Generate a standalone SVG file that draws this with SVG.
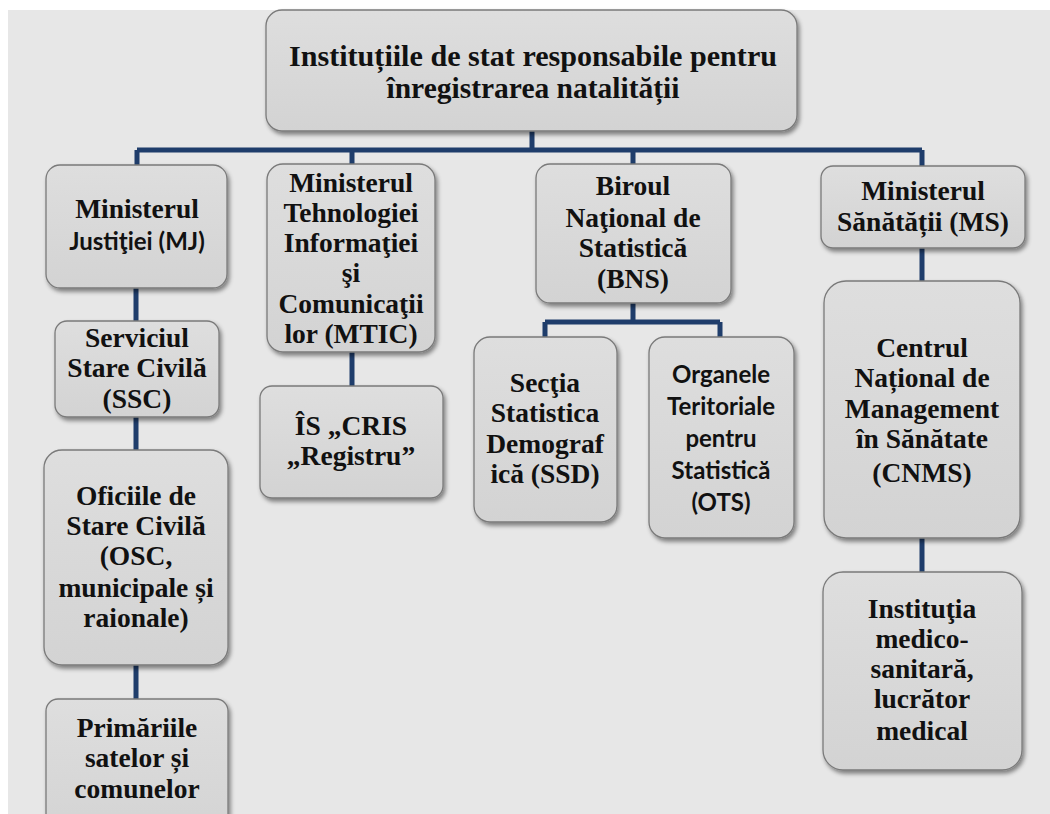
<svg xmlns="http://www.w3.org/2000/svg" width="1050" height="814" viewBox="0 0 1050 814">
<defs>
<linearGradient id="g" x1="0" y1="0" x2="0" y2="1">
<stop offset="0" stop-color="#dedede"/>
<stop offset="1" stop-color="#d3d3d3"/>
</linearGradient>
<filter id="sh" x="-10%" y="-10%" width="125%" height="130%">
<feDropShadow dx="2" dy="3" stdDeviation="2" flood-color="#000" flood-opacity="0.45"/>
</filter>
<style>
.box{fill:url(#g);stroke:#7a7a7a;stroke-width:1.3;filter:url(#sh)}
.t{font-family:"Liberation Serif","Times New Roman",serif;font-weight:bold;font-size:27.5px;fill:#111;text-anchor:middle}
.s{font-family:Lato,"Open Sans","Liberation Sans",sans-serif;font-weight:bold;font-size:24px;fill:#111;text-anchor:middle}
.title{font-family:"Liberation Serif","Times New Roman",serif;font-weight:bold;font-size:30px;fill:#111;text-anchor:middle}
.c{fill:none;stroke:#1f3d6b;stroke-width:5}
</style>
</defs>
<rect x="0" y="0" width="1050" height="814" fill="#ffffff"/>
<rect x="8" y="10" width="1042" height="804" fill="#e7e7e7"/>

<g id="connectors">
<path class="c" d="M532 131 V150 M137 150 H922 M137 150 V165 M352 150 V164 M633 150 V164 M922 150 V166"/>
<path class="c" d="M136 288 V321 M136 417 V450 M136 665 V699"/>
<path class="c" d="M352 352 V386"/>
<path class="c" d="M633 303 V322 M545 322 H720 M545 322 V337 M720 322 V337"/>
<path class="c" d="M922 248 V281 M922 538 V572"/>
</g>

<g id="n-top">
<rect class="box" x="266" y="10" width="531" height="121" rx="16"/>
<text class="title" x="533" y="66" textLength="488" lengthAdjust="spacingAndGlyphs">Instituțiile de stat responsabile pentru</text>
<text class="title" x="533" y="98" textLength="293" lengthAdjust="spacingAndGlyphs">înregistrarea natalității</text>
</g>

<g id="n-mj">
<rect class="box" x="46" y="165" width="181" height="123" rx="14"/>
<text class="t" x="137" y="218">Ministerul</text>
<text class="s" x="137" y="250">Justiţiei (MJ)</text>
</g>

<g id="n-ssc">
<rect class="box" x="55" y="321" width="164" height="96" rx="12"/>
<text class="t" x="137" y="347">Serviciul</text>
<text class="t" x="137" y="377">Stare Civilă</text>
<text class="t" x="137" y="408">(SSC)</text>
</g>

<g id="n-osc">
<rect class="box" x="44" y="450" width="184" height="215" rx="18"/>
<text class="t" x="136" y="505">Oficiile de</text>
<text class="t" x="136" y="535">Stare Civilă</text>
<text class="t" x="136" y="565">(OSC,</text>
<text class="t" x="136" y="597">municipale și</text>
<text class="t" x="136" y="627">raionale)</text>
</g>

<g id="n-prim">
<rect class="box" x="46" y="699" width="182" height="140" rx="12"/>
<text class="t" x="137" y="737">Primăriile</text>
<text class="t" x="137" y="767">satelor și</text>
<text class="t" x="137" y="798">comunelor</text>
</g>

<g id="n-mtic">
<rect class="box" x="267" y="164" width="168" height="188" rx="16"/>
<text class="t" x="351" y="192">Ministerul</text>
<text class="t" x="351" y="222">Tehnologiei</text>
<text class="t" x="351" y="252">Informaţiei</text>
<text class="t" x="351" y="282">şi</text>
<text class="t" x="351" y="313">Comunicaţii</text>
<text class="t" x="351" y="343">lor (MTIC)</text>
</g>

<g id="n-cris">
<rect class="box" x="260" y="386" width="183" height="112" rx="12"/>
<text class="t" x="351" y="435">ÎS „CRIS</text>
<text class="t" x="351" y="465">„Registru”</text>
</g>

<g id="n-bns">
<rect class="box" x="536" y="164" width="195" height="139" rx="14"/>
<text class="t" x="633" y="195">Biroul</text>
<text class="t" x="633" y="227">Naţional de</text>
<text class="t" x="633" y="257">Statistică</text>
<text class="t" x="633" y="288">(BNS)</text>
</g>

<g id="n-ssd">
<rect class="box" x="474" y="337" width="143" height="185" rx="16"/>
<text class="t" x="545" y="392">Secţia</text>
<text class="t" x="545" y="422">Statistica</text>
<text class="t" x="545" y="453">Demograf</text>
<text class="t" x="545" y="483">ică (SSD)</text>
</g>

<g id="n-ots">
<rect class="box" x="649" y="337" width="145" height="201" rx="16"/>
<text class="s" x="721" y="383">Organele</text>
<text class="s" x="721" y="415">Teritoriale</text>
<text class="s" x="721" y="447">pentru</text>
<text class="s" x="721" y="479">Statistică</text>
<text class="s" x="721" y="511">(OTS)</text>
</g>

<g id="n-ms">
<rect class="box" x="821" y="166" width="204" height="82" rx="12"/>
<text class="t" x="923" y="200">Ministerul</text>
<text class="t" x="923" y="231">Sănătății (MS)</text>
</g>

<g id="n-cnms">
<rect class="box" x="824" y="281" width="196" height="257" rx="22"/>
<text class="t" x="922" y="357">Centrul</text>
<text class="t" x="922" y="387">Național de</text>
<text class="t" x="922" y="418">Management</text>
<text class="t" x="922" y="448">în Sănătate</text>
<text class="t" x="922" y="482">(CNMS)</text>
</g>

<g id="n-imsp">
<rect class="box" x="823" y="572" width="199" height="198" rx="20"/>
<text class="t" x="922" y="618">Instituţia</text>
<text class="t" x="922" y="648">medico-</text>
<text class="t" x="922" y="678">sanitară,</text>
<text class="t" x="922" y="708">lucrător</text>
<text class="t" x="922" y="740">medical</text>
</g>
</svg>
